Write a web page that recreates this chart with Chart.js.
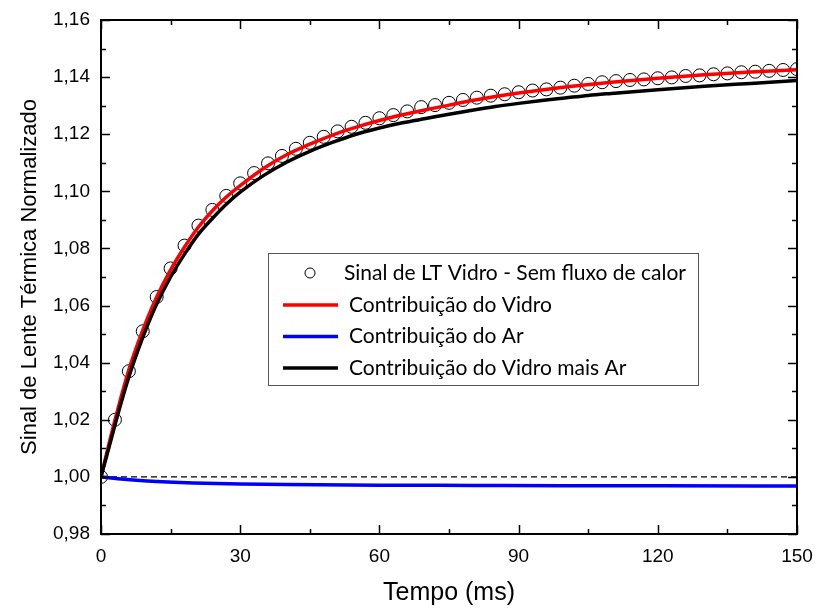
<!DOCTYPE html>
<html>
<head>
<meta charset="utf-8">
<script src="https://cdn.jsdelivr.net/npm/chart.js@4/dist/chart.umd.min.js"></script>
<style>
  html, body { margin: 0; padding: 0; background: #fff; }
  #wrap { width: 816px; height: 612px; }
</style>
</head>
<body>
<div id="wrap"><canvas id="c" width="816" height="612"></canvas></div>
<script>
// ---- Data ----
const sinalT = [0,3,6,9,12,15,18,21,24,27,30,33,36,39,42,45,48,51,54,57,60,63,66,69,72,75,78,81,84,87,90,93,96,99,102,105,108,111,114,117,120,123,126,129,132,135,138,141,144,147,150];
const sinalY = [1.000,1.020,1.037,1.051,1.063,1.073,1.081,1.088,1.0935,1.0984,1.1028,1.1064,1.1098,1.1124,1.1149,1.1170,1.1191,1.1210,1.1226,1.1240,1.1256,1.1267,1.1280,1.1295,1.1302,1.1310,1.1320,1.1328,1.1335,1.1340,1.1347,1.1353,1.1357,1.1363,1.1370,1.1376,1.1382,1.1386,1.1390,1.1392,1.1396,1.1399,1.1404,1.1406,1.1410,1.1413,1.1417,1.1419,1.1422,1.1425,1.1428];

const vidroT = [0,2,4,6,8,10,12,15,18,21,24,27,30,35,40,45,50,55,60,65,70,75,80,85,90,95,100,110,120,130,140,150];
const vidroY = [1.000,1.0135,1.026,1.0375,1.047,1.0555,1.063,1.0725,1.0805,1.0875,1.0932,1.098,1.102,1.108,1.1128,1.1165,1.1198,1.1225,1.1248,1.1268,1.1286,1.1302,1.1318,1.1332,1.1344,1.1355,1.1365,1.1382,1.1396,1.1408,1.1418,1.1426];

const arT = [0,5,10,20,30,40,60,80,100,120,150];
const arY = [1.0000,0.9992,0.9986,0.9979,0.9975,0.9973,0.9971,0.9970,0.9969,0.9969,0.9968];

const totalT = [0,2,4,6,8,10,12,15,18,21,24,27,30,35,40,45,50,55,60,65,70,75,80,85,90,95,100,105,110,120,130,140,150];
const totalY = [1.000,1.012,1.024,1.035,1.0445,1.053,1.0605,1.070,1.078,1.085,1.0905,1.0955,1.0997,1.1055,1.1102,1.114,1.1172,1.120,1.1222,1.124,1.1255,1.127,1.1284,1.1297,1.1308,1.1318,1.1327,1.1336,1.1343,1.1356,1.1368,1.1378,1.1388];

const refT = [0,150];
const refY = [1,1];

const xTicks = [0,30,60,90,120,150];
const labels = ["Sinal de LT Vidro - Sem fluxo de calor","Contribuição do Vidro","Contribuição do Ar","Contribuição do Vidro mais Ar"];

const pts = (xs, ys) => xs.map((x, i) => ({x: x, y: ys[i]}));

const AXIS_FONT = "'Liberation Sans', Arial, sans-serif";
const LEG_FONT = "Lato, 'Open Sans', sans-serif";

// Inner ticks + frame
const framePlugin = {
  id: 'frame',
  afterDatasetsDraw(chart) {
    const {ctx, chartArea: a, scales: {x, y}} = chart;
    ctx.save();
    ctx.strokeStyle = '#000';
    ctx.lineWidth = 1.5;
    for (let v = 0; v <= 150; v += 15) {
      const px = Math.round(x.getPixelForValue(v)) + 0.5;
      const len = (v % 30 === 0) ? 9 : 5;
      ctx.beginPath();
      ctx.moveTo(px, a.bottom); ctx.lineTo(px, a.bottom - len);
      ctx.moveTo(px, a.top); ctx.lineTo(px, a.top + len);
      ctx.stroke();
    }
    for (let k = 0; k <= 18; k++) {
      const v = 0.98 + k * 0.01;
      const py = Math.round(y.getPixelForValue(v)) + 0.5;
      const len = (k % 2 === 0) ? 9 : 5;
      ctx.beginPath();
      ctx.moveTo(a.left, py); ctx.lineTo(a.left + len, py);
      ctx.moveTo(a.right, py); ctx.lineTo(a.right - len, py);
      ctx.stroke();
    }
    ctx.lineWidth = 2;
    ctx.strokeRect(a.left, a.top, a.right - a.left, a.bottom - a.top);
    ctx.restore();
  }
};

// Legend box inside plot
const legendPlugin = {
  id: 'innerLegend',
  afterDraw(chart) {
    const {ctx} = chart;
    const ds = chart.data.datasets;
    const bx = 268.5, by = 253.5, bw = 430, bh = 132;
    ctx.save();
    ctx.fillStyle = '#fff';
    ctx.fillRect(bx, by, bw, bh);
    ctx.strokeStyle = '#555';
    ctx.lineWidth = 1;
    ctx.strokeRect(bx, by, bw, bh);
    const rows = [273, 305, 336.5, 368];
    ctx.font = '21px ' + LEG_FONT;
    ctx.fillStyle = '#000';
    ctx.textBaseline = 'middle';
    for (let i = 0; i < 4; i++) {
      const d = ds[i];
      const yy = rows[i];
      if (i === 0) {
        ctx.beginPath();
        ctx.arc(310, yy, 5, 0, Math.PI * 2);
        ctx.lineWidth = 1;
        ctx.strokeStyle = '#000';
        ctx.stroke();
        ctx.fillText(d.label, 344, yy);
      } else {
        ctx.beginPath();
        ctx.moveTo(283, yy); ctx.lineTo(338, yy);
        ctx.lineWidth = 3.5;
        ctx.strokeStyle = d.borderColor;
        ctx.stroke();
        ctx.fillText(d.label, 349, yy);
      }
    }
    ctx.restore();
  }
};

new Chart(document.getElementById('c'), {
  type: 'line',
  data: {
    datasets: [
      { label: labels[0], data: pts(sinalT, sinalY), showLine: false,
        pointStyle: 'circle', pointRadius: 6.5, pointBorderWidth: 1,
        pointBorderColor: '#000', pointBackgroundColor: 'rgba(0,0,0,0)',
        borderColor: '#000', order: 5 },
      { label: labels[1], data: pts(vidroT, vidroY), borderColor: '#ff0000',
        borderWidth: 3.5, pointRadius: 0, cubicInterpolationMode: 'monotone', order: 3 },
      { label: labels[2], data: pts(arT, arY), borderColor: '#0000ff',
        borderWidth: 3.5, pointRadius: 0, cubicInterpolationMode: 'monotone', order: 2 },
      { label: labels[3], data: pts(totalT, totalY), borderColor: '#000000',
        borderWidth: 3.5, pointRadius: 0, cubicInterpolationMode: 'monotone', order: 1 },
      { label: 'ref', data: pts(refT, refY), borderColor: '#000', borderWidth: 1.2,
        borderDash: [6, 4], pointRadius: 0, order: 4 }
    ]
  },
  options: {
    responsive: false,
    animation: false,
    devicePixelRatio: 1,
    layout: { padding: { left: 0, top: 20, right: 19, bottom: 0 } },
    plugins: { legend: { display: false }, tooltip: { enabled: false } },
    scales: {
      x: {
        type: 'linear', min: 0, max: 150,
        afterFit: (s) => { s.height = 78; s.paddingLeft = 0; s.paddingRight = 0; },
        afterBuildTicks: (s) => { s.ticks = xTicks.map(v => ({value: v})); },
        grid: { display: false, drawTicks: false },
        border: { display: false },
        ticks: { padding: 11, color: '#000', font: { family: AXIS_FONT, size: 19 }, maxRotation: 0 },
        title: { display: true, text: 'Tempo (ms)', color: '#000',
                 font: { family: AXIS_FONT, size: 25 }, padding: { top: 0, bottom: 4 } }
      },
      y: {
        type: 'linear', min: 0.98, max: 1.16,
        afterFit: (s) => { s.width = 101; s.paddingTop = 0; s.paddingBottom = 0; },
        grid: { display: false, drawTicks: false },
        border: { display: false },
        ticks: { stepSize: 0.02, padding: 11, color: '#000',
                 font: { family: AXIS_FONT, size: 19 },
                 callback: (v) => Number(v).toFixed(2).replace('.', ',') },
        title: { display: true, text: 'Sinal de Lente Térmica Normalizado', color: '#000',
                 font: { family: AXIS_FONT, size: 22 }, padding: { top: 17, bottom: 0 } }
      }
    }
  },
  plugins: [framePlugin, legendPlugin]
});
</script>
</body>
</html>
